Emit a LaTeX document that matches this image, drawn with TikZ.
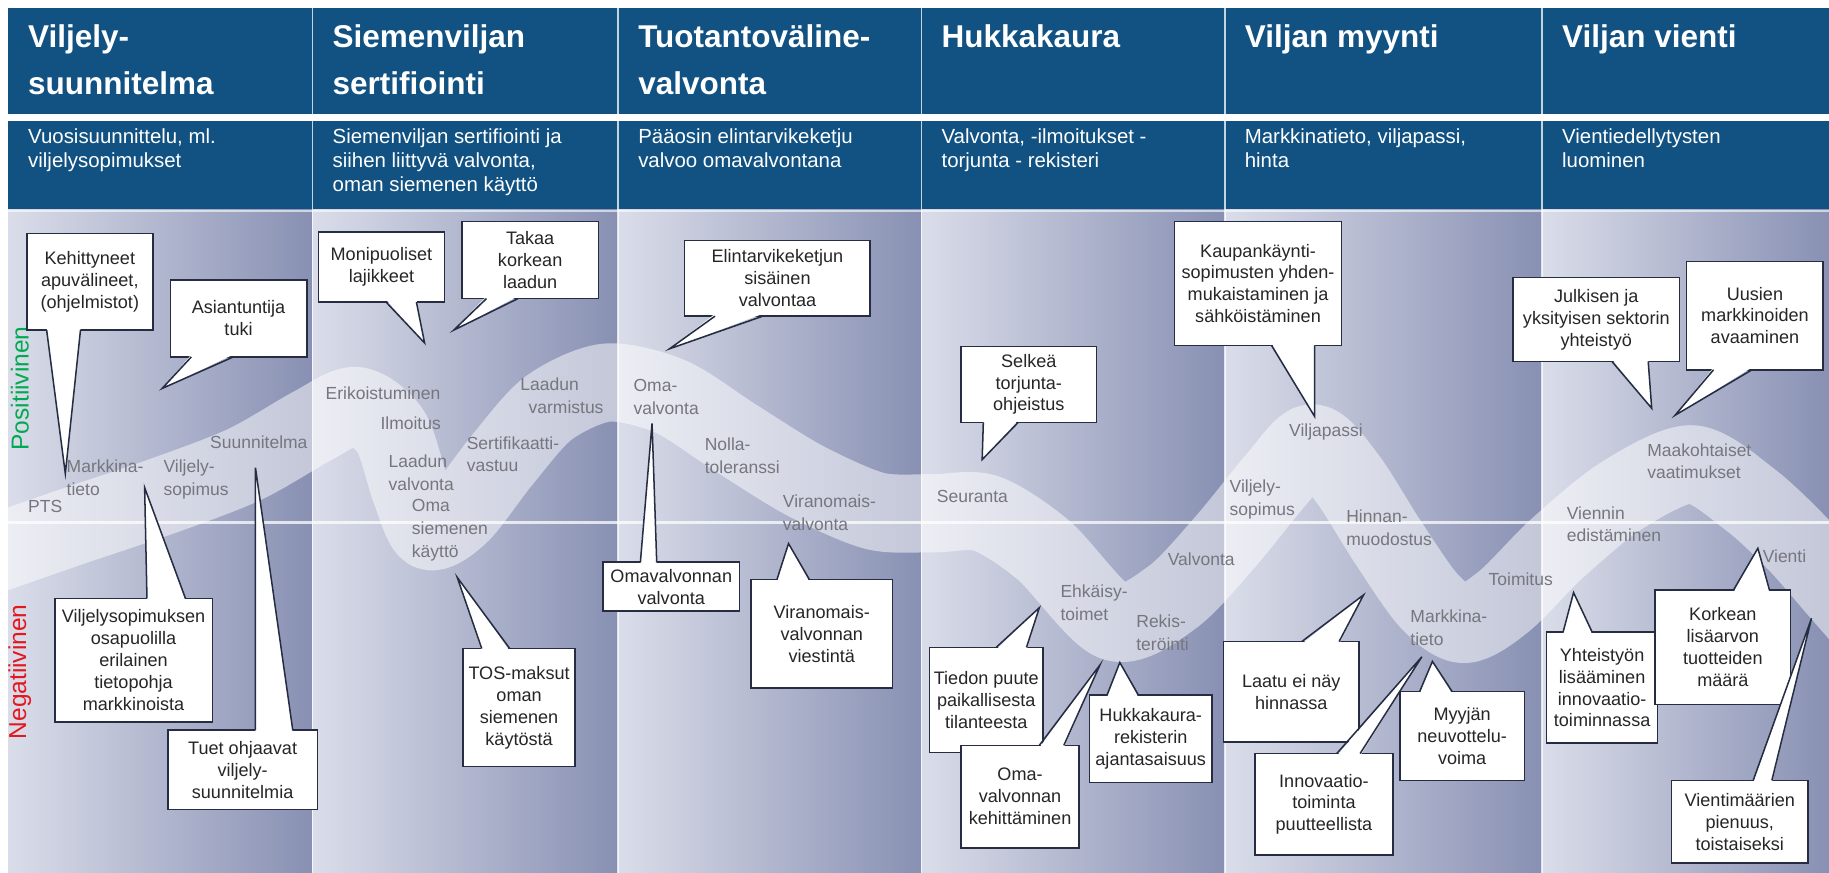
\documentclass[tikz,border=0pt]{standalone}
\usepackage{fontspec}
\setmainfont{Liberation Sans}
\usetikzlibrary{calc}
\definecolor{hdr}{RGB}{17,82,130}
\definecolor{colL}{RGB}{218,221,233}
\definecolor{colR}{RGB}{136,144,179}
\definecolor{lbl}{RGB}{118,118,126}
\definecolor{cbord}{RGB}{38,45,66}
\definecolor{posg}{RGB}{0,170,80}
\definecolor{negr}{RGB}{228,22,30}
\tikzset{
 ttl/.style={anchor=north west, inner sep=0, text=white, font=\fontsize{27}{40}\selectfont\bfseries, align=left},
 sub/.style={anchor=north west, inner sep=0, text=white, font=\fontsize{17.5}{20.5}\selectfont, align=left},
 bl/.style={anchor=north west, inner sep=0, text=lbl, font=\fontsize{15}{19.5}\selectfont, align=left},
 callout/.style={draw=cbord, line width=1.3pt, fill=white, inner sep=0, outer sep=0, align=center, font=\fontsize{15.5}{18.8}\selectfont, text=black!85},
 cline/.style={draw=cbord, line width=1.3pt, line join=miter},
}
\newcommand\tailS[4]{%
 \fill[white] ($(#1.south west)+(#2,-2)$) -- (#4) -- ($(#1.south west)+(#3,-2)$) -- cycle;
 \draw[cline] ($(#1.south west)+(#2,0)$) -- (#4) -- ($(#1.south west)+(#3,0)$);}
\newcommand\tailN[4]{%
 \fill[white] ($(#1.north west)+(#2,2)$) -- (#4) -- ($(#1.north west)+(#3,2)$) -- cycle;
 \draw[cline] ($(#1.north west)+(#2,0)$) -- (#4) -- ($(#1.north west)+(#3,0)$);}
\begin{document}
\begin{tikzpicture}[x=1pt,y=-1pt]
\useasboundingbox (0,0) rectangle (1568,748);
\fill[white] (0,0) rectangle (1568,748);
% header bands
\fill[hdr] (7,7) rectangle (1568,98);
\fill[hdr] (7,104) rectangle (1568,180);
% body columns
\foreach \a/\b in {7/268,268/530,530/790,790/1050,1050/1322,1322/1568}
  {\shade[left color=colL, right color=colR] (\a,180) rectangle (\b,748);}
\foreach \x in {268,530,790,1050,1322}
  {\draw[white, opacity=0.75, line width=1.5] (\x,7) -- (\x,98) (\x,104) -- (\x,748);}
\draw[white, opacity=0.6, line width=1.2] (7,181) -- (1568,181);
% wave band
\begin{scope}
\clip (7,180) rectangle (1568,748);
\draw[white, opacity=0.5, line width=67, line join=round] plot[smooth, tension=0.5] coordinates {
(-20,480) (60,452) (140,425) (210,398) (268,365) (305,348) (335,370) (352,420) (368,455)
(395,440) (430,395) (470,350) (520,328) (575,340) (630,375) (690,412) (750,438) (800,440)
(845,440) (895,472) (955,533) (1005,512) (1050,465) (1095,410) (1125,380) (1155,410)
(1190,465) (1225,515) (1255,535) (1290,515) (1335,470) (1390,425) (1450,398) (1500,428)
(1540,465) (1575,505) (1610,545)};
\end{scope}
\draw[white, opacity=0.75, line width=2] (7,448) -- (1568,448);
% titles
\node[ttl] (t1) at (24,21) {Viljely-\\suunnitelma};
\node[ttl] (t2) at (285,21) {Siemenviljan\\sertifiointi};
\node[ttl] (t3) at (547,21) {Tuotantoväline-\\valvonta};
\node[ttl] (t4) at (807,21) {Hukkakaura};
\node[ttl] (t5) at (1067,21) {Viljan myynti};
\node[ttl] (t6) at (1339,21) {Viljan vienti};
\node[sub] (s1) at (24,110) {Vuosisuunnittelu, ml.\\viljelysopimukset};
\node[sub] (s2) at (285,110) {Siemenviljan sertifiointi ja\\siihen liittyvä valvonta,\\oman siemenen käyttö};
\node[sub] (s3) at (547,110) {Pääosin elintarvikeketju\\valvoo omavalvontana};
\node[sub] (s4) at (807,110) {Valvonta, -ilmoitukset -\\torjunta - rekisteri};
\node[sub] (s5) at (1067,110) {Markkinatieto, viljapassi,\\hinta};
\node[sub] (s6) at (1339,110) {Vientiedellytysten\\luominen};
% side labels
\node[rotate=90, text=posg, font=\fontsize{21}{21}\selectfont, inner sep=0] (pos) at (17,333) {Positiivinen};
\node[rotate=90, text=negr, font=\fontsize{21}{21}\selectfont, inner sep=0] (neg) at (17,576) {Negatiivinen};
% band labels
\node[bl] (l1) at (24,429) {PTS};
\node[bl] (l2) at (57,394) {Markkina-\\tieto};
\node[bl] (l3) at (140,394) {Viljely-\\sopimus};
\node[bl] (l4) at (180,373) {Suunnitelma};
\node[bl] (l5) at (279,331) {Erikoistuminen};
\node[bl] (l6) at (326,357) {Ilmoitus};
\node[bl] (l7) at (333,390) {Laadun\\valvonta};
\node[bl] (l8) at (353,428) {Oma\\siemenen\\käyttö};
\node[bl] (l9) at (400,374) {Sertifikaatti-\\vastuu};
\node[bl] (l10) at (446,324) {Laadun\\\hspace*{7pt}varmistus};
\node[bl] (l11) at (543,325) {Oma-\\valvonta};
\node[bl] (l12) at (604,375) {Nolla-\\toleranssi};
\node[bl] (l13) at (671,424) {Viranomais-\\valvonta};
\node[bl] (l14) at (803,420) {Seuranta};
\node[bl] (l15) at (909,501) {Ehkäisy-\\toimet};
\node[bl] (l16) at (974,527) {Rekis-\\teröinti};
\node[bl] (l17) at (1001,474) {Valvonta};
\node[bl] (l18) at (1054,411) {Viljely-\\sopimus};
\node[bl] (l19) at (1105,363) {Viljapassi};
\node[bl] (l20) at (1154,437) {Hinnan-\\muodostus};
\node[bl] (l21) at (1209,523) {Markkina-\\tieto};
\node[bl] (l22) at (1276,491) {Toimitus};
\node[bl] (l23) at (1343,434) {Viennin\\edistäminen};
\node[bl] (l24) at (1412,380) {Maakohtaiset\\vaatimukset};
\node[bl] (l25) at (1511,471) {Vienti};
% tips
\coordinate (tA1) at (56,406);   \coordinate (tA2) at (139,333);
\coordinate (tA3) at (124,418);  \coordinate (tA4) at (219,401);
\coordinate (tB1) at (364,294);  \coordinate (tB2) at (389,283);
\coordinate (tB3) at (392,495);  \coordinate (tC1) at (574,299);
\coordinate (tC2) at (559,363);  \coordinate (tC3) at (676,466);
\coordinate (tD1) at (842,394);  \coordinate (tD2) at (891,521);
\coordinate (tD3) at (943,570);  \coordinate (tD4) at (960,568);
\coordinate (tE1) at (1127,357); \coordinate (tE2) at (1169,510);
\coordinate (tE3) at (1219,563); \coordinate (tE4) at (1228,567);
\coordinate (tF1) at (1416,350); \coordinate (tF2) at (1436,356);
\coordinate (tF3) at (1349,508); \coordinate (tF4) at (1507,470);
\coordinate (tF5) at (1553,530);
% callouts
\node[callout, minimum width=108, minimum height=83] (A1) at (77,241.5) {Kehittyneet\\apuvälineet,\\(ohjelmistot)};
\tailS{A1}{17}{46}{tA1}
\node[callout, minimum width=117, minimum height=66] (A2) at (204.5,273) {Asiantuntija\\tuki};
\tailS{A2}{18}{54}{tA2}
\node[callout, minimum width=135, minimum height=106] (A3) at (114.5,566) {Viljelysopimuksen\\osapuolilla\\erilainen\\tietopohja\\markkinoista};
\tailN{A3}{79}{112}{tA3}
\node[callout, minimum width=128, minimum height=68] (A4) at (208,660) {Tuet ohjaavat\\viljely-\\suunnitelmia};
\tailN{A4}{75}{107}{tA4}
\node[callout, minimum width=108, minimum height=60] (B1) at (327,229) {Monipuoliset\\lajikkeet};
\tailS{B1}{58}{84}{tB1}
\node[callout, minimum width=117, minimum height=66] (B2) at (454.5,223) {Takaa\\korkean\\laadun};
\tailS{B2}{21}{48}{tB2}
\node[callout, minimum width=96, minimum height=101] (B3) at (445,606.5) {TOS-maksut\\oman\\siemenen\\käytöstä};
\tailN{B3}{16}{40}{tB3}
\node[callout, minimum width=159, minimum height=65] (C1) at (666.5,238.5) {Elintarvikeketjun\\sisäinen\\valvontaa};
\tailS{C1}{26}{67}{tC1}
\node[callout, minimum width=117, minimum height=42] (C2) at (575.5,503) {Omavalvonnan\\valvonta};
\tailN{C2}{32}{46}{tC2}
\node[callout, minimum width=121, minimum height=93] (C3) at (704.5,543.5) {Viranomais-\\valvonnan\\viestintä};
\tailN{C3}{22}{50}{tC3}
\node[callout, minimum width=116, minimum height=65] (D1) at (882,329.5) {Selkeä\\torjunta-\\ohjeistus};
\tailS{D1}{19}{49}{tD1}
\node[callout, minimum width=97, minimum height=90] (D2) at (845.5,600) {Tiedon puute\\paikallisesta\\tilanteesta};
\tailN{D2}{57}{83}{tD2}
\node[callout, minimum width=101, minimum height=88] (D3) at (874.5,683) {Oma-\\valvonnan\\kehittäminen};
\tailN{D3}{67}{88}{tD3}
\node[callout, minimum width=105, minimum height=75] (D4) at (986.5,633.5) {Hukkakaura-\\rekisterin\\ajantasaisuus};
\tailN{D4}{15}{42}{tD4}
\node[callout, minimum width=143, minimum height=106] (E1) at (1078.5,243) {Kaupankäynti-\\sopimusten yhden-\\mukaistaminen ja\\sähköistäminen};
\tailS{E1}{83}{120}{tE1}
\node[callout, minimum width=116, minimum height=86] (E2) at (1107,593) {Laatu ei näy\\hinnassa};
\tailN{E2}{67}{99}{tE2}
\node[callout, minimum width=118, minimum height=87] (E3) at (1135,689.5) {Innovaatio-\\toiminta\\puutteellista};
\tailN{E3}{70}{90}{tE3}
\node[callout, minimum width=107, minimum height=76] (E4) at (1253.5,631) {Myyjän\\neuvottelu-\\voima};
\tailN{E4}{17}{45}{tE4}
\node[callout, minimum width=143, minimum height=72] (F1) at (1368.5,274) {Julkisen ja\\yksityisen sektorin\\yhteistyö};
\tailS{F1}{85}{116}{tF1}
\node[callout, minimum width=117, minimum height=93] (F2) at (1504.5,270.5) {Uusien\\markkinoiden\\avaaminen};
\tailS{F2}{23}{56}{tF2}
\node[callout, minimum width=95, minimum height=95] (F3) at (1373.5,589.5) {Yhteistyön\\lisääminen\\innovaatio-\\toiminnassa};
\tailN{F3}{14}{39}{tF3}
\node[callout, minimum width=116, minimum height=98] (F4) at (1477,555) {Korkean\\lisäarvon\\tuotteiden\\määrä};
\tailN{F4}{67}{98}{tF4}
\node[callout, minimum width=117, minimum height=71] (F5) at (1491.5,704.5) {Vientimäärien\\pienuus,\\toistaiseksi};
\tailN{F5}{70}{86}{tF5}
\end{tikzpicture}
\end{document}
